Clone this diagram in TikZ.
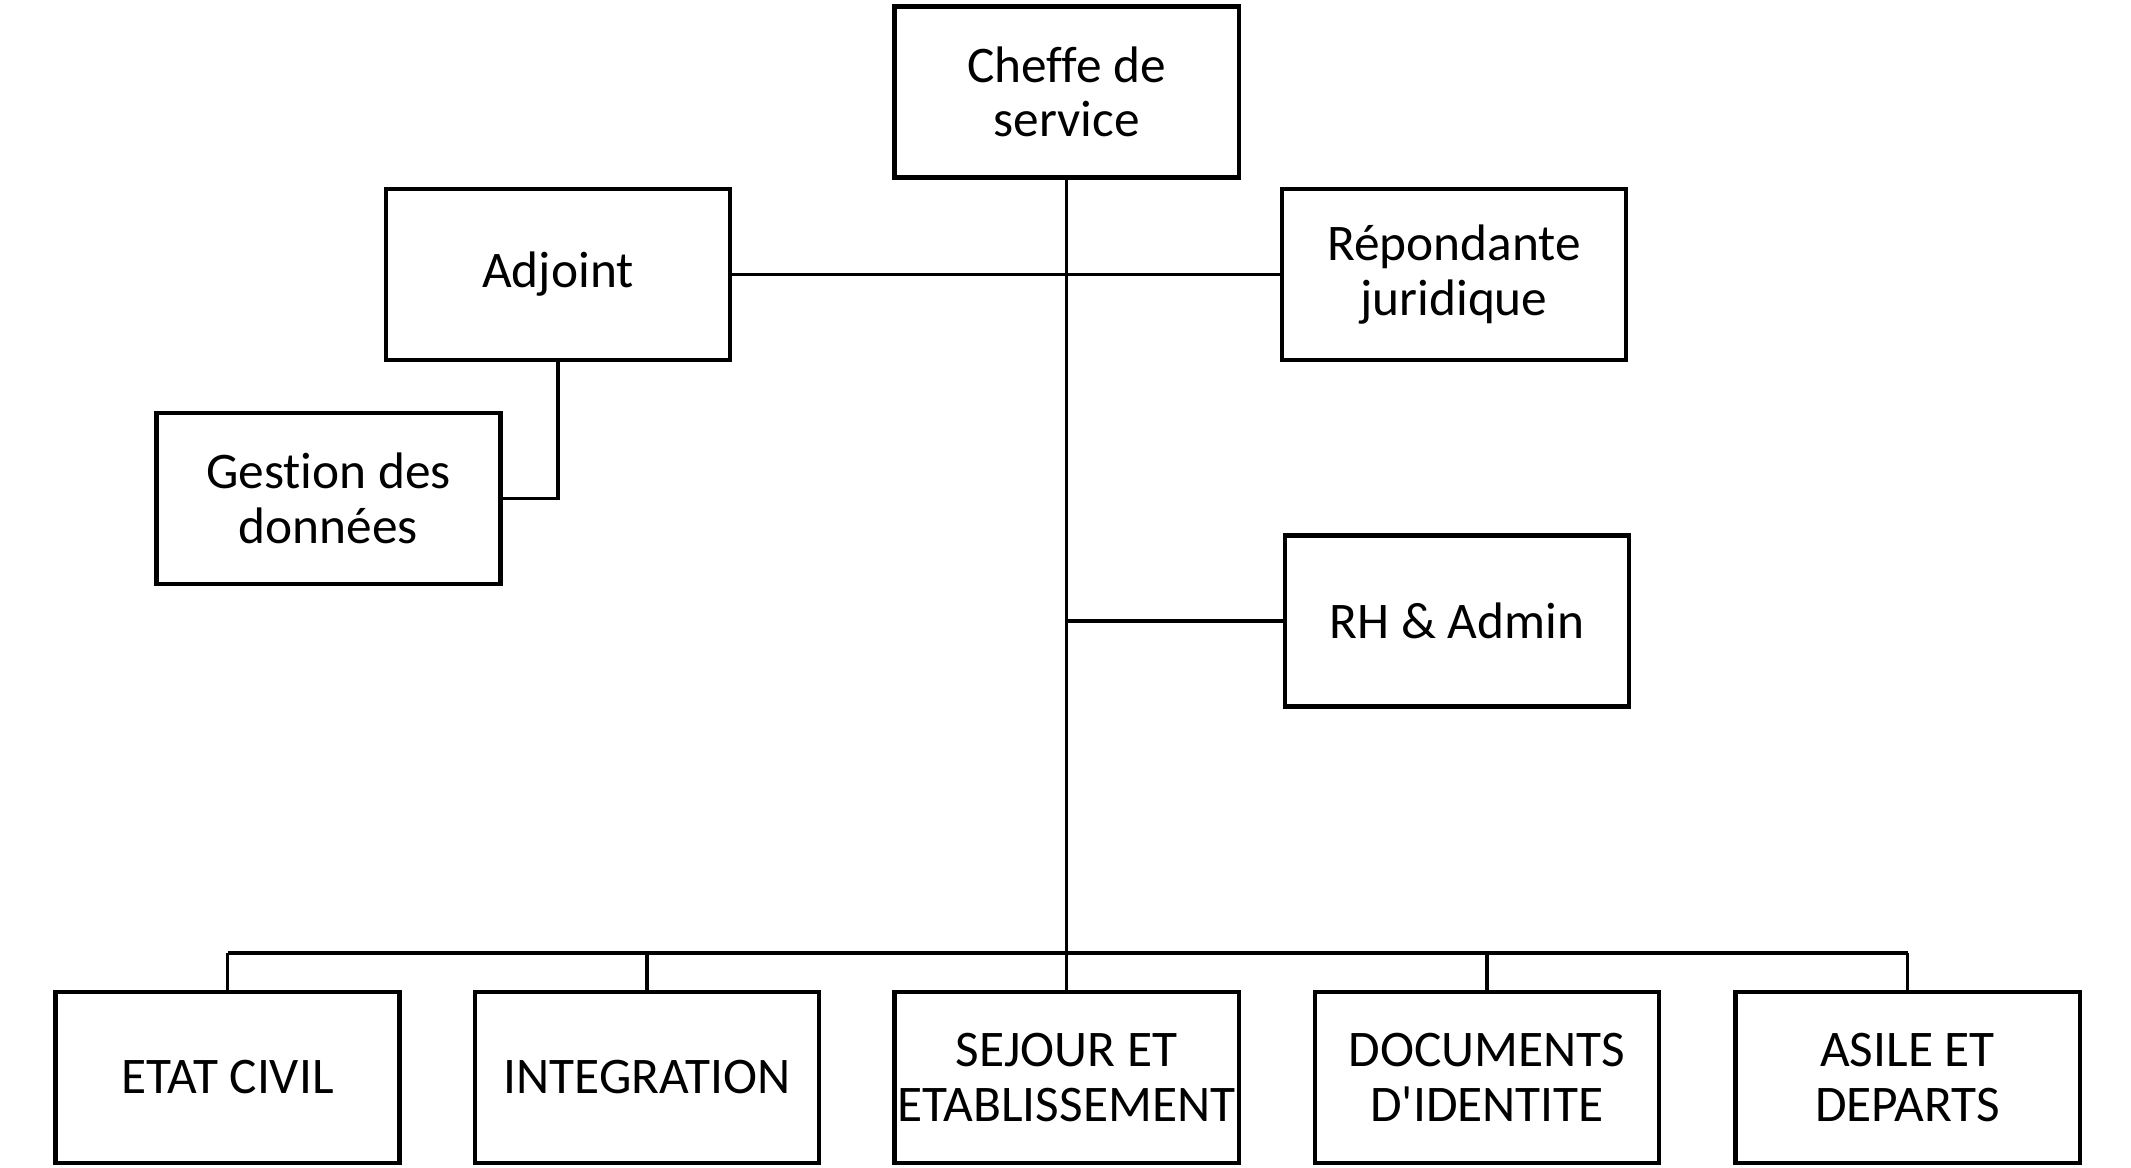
\documentclass[tikz,border=0pt]{standalone}
\usepackage{fontspec}
\setmainfont{Carlito}[Ligatures={NoCommon}]
\tikzstyle{unit}=[draw,line width=1.2pt,minimum width=3.44cm,minimum height=1.71cm,inner xsep=0pt,inner ysep=2pt,align=center,font=\fontsize{14.6}{15.5}\selectfont]
\tikzstyle{link}=[draw,line width=1pt]

\begin{document}
\begin{tikzpicture}[x=0.01cm,y=-0.01cm]
	\useasboundingbox (0,0) rectangle (2131,1168);
	% First the boxes of the top part
	\node[unit] (chef) at (1066.5,92) {Cheffe de\\service};
	\node[unit] (adj) at (558,274.5) {Adjoint};
	\node[unit] (jur) at (1454,274.5) {Répondante\\juridique};
	\node[unit] (data) at (328.5,498.5) {Gestion des\\données};
	\node[unit] (rh) at (1457,621) {RH \& Admin};

	% Then the offices at the bottom
	\foreach \pos/\name/\text in {227.5/ec/ETAT CIVIL, 647/int/INTEGRATION, 1066.5/sej/SEJOUR ET\\ETABLISSEMENT, 1487/doc/DOCUMENTS\\D\textquotesingle IDENTITE, 1907.5/asi/ASILE ET\\DEPARTS}
	\node[unit] (\name) at (\pos,1077.5) {\text};
	\coordinate (bus) at (1066.5,953);

	% Connect the boxes
	\path[link] (chef.south) -- (bus);
	\path[link] (adj.east) -- (jur.west);
	\path[link] (rh.west) -- (rh.west -| chef.south);
	\path[link] (adj.south) |- (data.east);
	\path[link] (ec.north |- bus) -- (asi.north |- bus);
	\foreach \name in {ec, int, sej, doc, asi}
	\path[link] (\name.north) -- (\name.north |- bus);
\end{tikzpicture}
\end{document}
